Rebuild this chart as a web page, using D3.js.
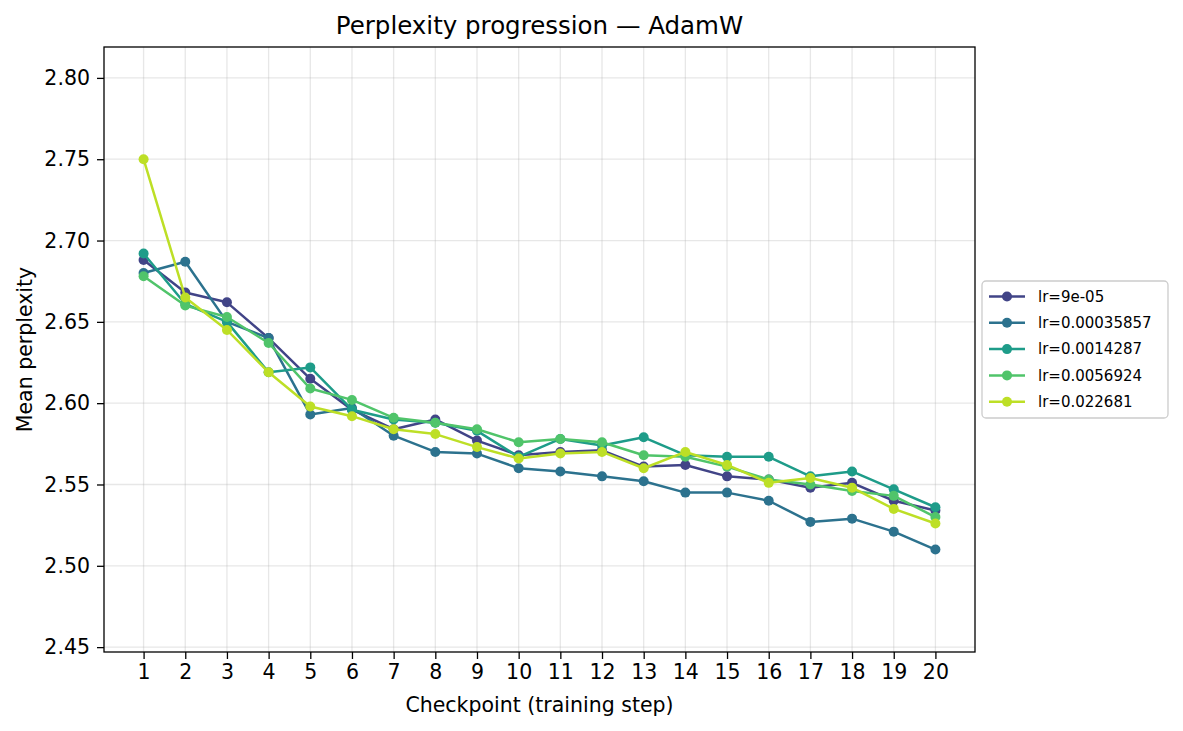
<!DOCTYPE html>
<html>
<head>
<meta charset="utf-8">
<title>Perplexity progression</title>
<script src="https://d3js.org/d3.v7.min.js"></script>
<style>
  body { margin: 0; background: #fff; }
  text { font-family: "DejaVu Sans", sans-serif; fill: #000; }
</style>
</head>
<body>
<div id="chart"></div>
<script>
// checkpoints on the x axis
var checkpoints = d3.range(1, 21);

// learning rates (legend labels)
var lrLabels = ["lr=9e-05", "lr=0.00035857", "lr=0.0014287", "lr=0.0056924", "lr=0.022681"];

// mean perplexity per checkpoint, one array per learning rate
var lr9e05 = [2.688, 2.668, 2.662, 2.640, 2.615, 2.596, 2.584, 2.590, 2.577, 2.568,
              2.570, 2.571, 2.561, 2.562, 2.555, 2.553, 2.548, 2.551, 2.540, 2.534];
var lr00035857 = [2.680, 2.687, 2.650, 2.640, 2.593, 2.597, 2.580, 2.570, 2.569, 2.560,
                  2.558, 2.555, 2.552, 2.545, 2.545, 2.540, 2.527, 2.529, 2.521, 2.510];
var lr0014287 = [2.692, 2.661, 2.650, 2.619, 2.622, 2.596, 2.590, 2.588, 2.583, 2.567,
                 2.578, 2.574, 2.579, 2.568, 2.567, 2.567, 2.555, 2.558, 2.547, 2.536];
var lr0056924 = [2.678, 2.660, 2.653, 2.637, 2.609, 2.602, 2.591, 2.588, 2.584, 2.576,
                 2.578, 2.576, 2.568, 2.567, 2.561, 2.553, 2.550, 2.546, 2.543, 2.530];
var lr022681 = [2.750, 2.665, 2.645, 2.619, 2.598, 2.592, 2.584, 2.581, 2.573, 2.566,
                2.569, 2.570, 2.560, 2.570, 2.562, 2.551, 2.554, 2.548, 2.535, 2.526];

var seriesValues = [lr9e05, lr00035857, lr0014287, lr0056924, lr022681];

var yTicks = [2.45, 2.50, 2.55, 2.60, 2.65, 2.70, 2.75, 2.80];

// figure size and plot box
var W = 1183, H = 731;
var margin = {top: 47, right: 208, bottom: 79, left: 104};
var width = W - margin.left - margin.right,
    height = H - margin.top - margin.bottom;

var svg = d3.select("#chart").append("svg")
    .attr("width", W)
    .attr("height", H);

var g = svg.append("g")
    .attr("transform", "translate(" + margin.left + "," + margin.top + ")");

var x = d3.scaleLinear().domain([0.05, 20.95]).range([0, width]);
var y = d3.scaleLinear().domain([2.447, 2.819]).range([height, 0]);

// viridis colours, like matplotlib's cm.viridis(linspace(0.2, 0.9, 5))
var color = d3.scaleOrdinal()
    .domain(lrLabels)
    .range(d3.range(5).map(function (i) { return d3.interpolateViridis(0.2 + i * 0.175); }));

// grid
g.append("g")
  .selectAll("line")
  .data(checkpoints)
  .enter().append("line")
    .attr("x1", function (d) { return x(d); })
    .attr("x2", function (d) { return x(d); })
    .attr("y1", 0).attr("y2", height)
    .attr("stroke", "#b0b0b0").attr("stroke-opacity", 0.3).attr("stroke-width", 1.3);
g.append("g")
  .selectAll("line")
  .data(yTicks)
  .enter().append("line")
    .attr("y1", function (d) { return y(d); })
    .attr("y2", function (d) { return y(d); })
    .attr("x1", 0).attr("x2", width)
    .attr("stroke", "#b0b0b0").attr("stroke-opacity", 0.3).attr("stroke-width", 1.3);

// axes
var xAxis = g.append("g")
    .attr("transform", "translate(0," + height + ")")
    .call(d3.axisBottom(x).tickValues(checkpoints).tickSize(7).tickPadding(5).tickFormat(d3.format("d")));
var yAxis = g.append("g")
    .call(d3.axisLeft(y).tickValues(yTicks).tickSize(7).tickPadding(7).tickFormat(d3.format(".2f")));

[xAxis, yAxis].forEach(function (a) {
  a.select(".domain").remove();
  a.selectAll(".tick line").attr("stroke", "#000").attr("stroke-width", 1.3);
  a.selectAll(".tick text").attr("font-size", "20.5px").attr("font-family", "DejaVu Sans").attr("fill", "#000");
});

// lines and markers
var line = d3.line()
    .x(function (d, i) { return x(checkpoints[i]); })
    .y(function (d) { return y(d); });

seriesValues.forEach(function (vals, k) {
  var c = color(lrLabels[k]);
  var s = g.append("g");
  s.append("path")
    .datum(vals)
    .attr("d", line)
    .attr("fill", "none")
    .attr("stroke", c)
    .attr("stroke-width", 2.5)
    .attr("stroke-linejoin", "round");
  s.selectAll("circle")
    .data(vals)
    .enter().append("circle")
      .attr("cx", function (d, i) { return x(checkpoints[i]); })
      .attr("cy", function (d) { return y(d); })
      .attr("r", 5)
      .attr("fill", c);
});

// frame
g.append("rect")
    .attr("width", width).attr("height", height)
    .attr("fill", "none").attr("stroke", "#000").attr("stroke-width", 1.3);

// title and axis labels
svg.append("text")
    .attr("x", margin.left + width / 2).attr("y", 34)
    .attr("text-anchor", "middle").attr("font-size", "24.5px")
    .text("Perplexity progression — AdamW");

svg.append("text")
    .attr("x", margin.left + width / 2).attr("y", 712)
    .attr("text-anchor", "middle").attr("font-size", "20.5px")
    .text("Checkpoint (training step)");

svg.append("text")
    .attr("transform", "translate(32," + (margin.top + height / 2) + ") rotate(-90)")
    .attr("text-anchor", "middle").attr("font-size", "20.5px")
    .text("Mean perplexity");

// legend
var legend = svg.append("g").attr("transform", "translate(982,281)");
legend.append("rect")
    .attr("width", 186).attr("height", 137).attr("rx", 4)
    .attr("fill", "#fff").attr("fill-opacity", 0.8)
    .attr("stroke", "#cccccc").attr("stroke-width", 1.3);

var items = legend.selectAll(".item")
    .data(lrLabels)
  .enter().append("g")
    .attr("transform", function (d, i) { return "translate(0," + (15.5 + i * 26.3) + ")"; });
items.append("line")
    .attr("x1", 7).attr("x2", 43)
    .attr("stroke", function (d) { return color(d); })
    .attr("stroke-width", 2.5);
items.append("circle")
    .attr("cx", 25).attr("r", 5)
    .attr("fill", function (d) { return color(d); });
items.append("text")
    .attr("x", 56).attr("dy", "0.35em")
    .attr("font-size", "15px")
    .text(function (d) { return d; });
</script>
</body>
</html>
